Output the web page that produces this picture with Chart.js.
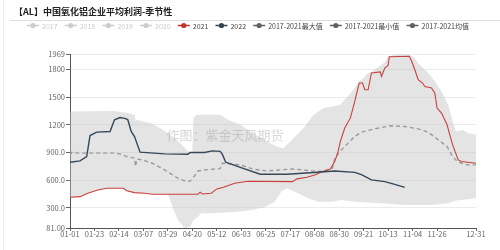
<!DOCTYPE html>
<html><head><meta charset="utf-8">
<script src="https://cdn.jsdelivr.net/npm/chart.js@4"></script>
<style>html,body{margin:0;padding:0;background:#fff;}#wrap{width:500px;height:250px;position:relative;}</style>
</head><body><div id="wrap"><canvas id="c" width="500" height="250"></canvas></div>
<script>
const titleText = '【AL】中国氧化铝企业平均利润-季节性';
const watermarkText = '作图：紫金天风期货';

const xTickDays = [0,22,44,66,88,110,132,154,176,198,220,242,264,286,308,330,365];
const xTickLabels = ['01-01','01-23','02-14','03-07','03-29','04-20','05-12','06-03','06-25','07-17','08-08','08-30','09-21','10-13','11-04','11-26','12-31'];
const yTickValues = [81,300,600,900,1200,1500,1800,1969];
const yTickLabels = ['81.00','300.0','600.0','900.0','1200','1500','1800','1969'];

const days2021 = [0,9,16,25,33,48,51,58,67,74,115,117,119,127,132,138,148,160,200,204,213,220,227,234,238,241,243,247,252,256,260,263,265,268,271,279,280,283,286,287,305,307,310,313,317,319,325,328,330,334,339,341,344,349,352,365];
const vals2021 = [415,421,458,494,512,512,486,465,458,447,447,470,450,458,505,523,567,588,584,614,632,657,693,722,802,910,1019,1165,1273,1454,1654,1654,1581,1581,1763,1774,1726,1817,1845,1940,1945,1896,1798,1690,1654,1617,1600,1545,1382,1328,1201,1110,983,820,802,784];

const days2022 = [0,9,15,18,24,36,40,45,50,52,55,58,63,85,106,108,121,128,135,137,140,155,171,195,216,238,256,262,271,283,292,301];
const vals2022 = [795,809,856,1084,1121,1128,1255,1280,1268,1255,1128,1073,904,885,882,900,900,918,912,880,795,730,665,665,680,700,685,660,603,584,555,521];

const daysMax = [0,40,52,58,59,60,72,81,90,99,106,110,111,114,135,142,153,165,177,186,192,201,210,219,228,236,243,251,256,260,263,268,271,280,283,286,295,305,310,313,322,328,334,340,344,347,353,358,365];
const valsMax = [1345,1350,1328,1309,1240,1255,1219,1165,1092,1002,915,905,1280,1309,1309,1255,1201,1110,1019,965,947,1056,1165,1309,1382,1400,1418,1527,1600,1680,1700,1763,1775,1853,1880,1943,1969,1961,1920,1870,1763,1672,1563,1418,1236,1128,1146,1110,1092];

const daysMin = [0,9,16,25,33,48,51,58,67,74,88,91,97,102,104,108,111,115,118,127,136,151,163,175,184,190,195,205,214,223,235,244,256,280,301,325,340,346,365];
const valsMin = [415,421,458,494,512,512,486,465,458,447,447,349,168,95,81,95,168,204,240,240,247,258,277,306,367,476,512,458,404,367,367,385,367,349,331,331,349,378,404];

const daysAvg = [0,2,7,40,45,51,58,59,60,65,74,85,97,105,108,114,115,121,135,137,153,165,177,200,218,227,236,238,244,250,256,262,274,288,301,313,322,331,339,343,348,357,365];
const valsAvg = [870,905,893,893,885,856,839,747,830,820,784,712,621,584,590,676,700,712,725,784,766,719,700,722,700,693,730,839,929,1002,1073,1121,1157,1190,1182,1157,1121,1038,965,875,802,766,766];

const inactiveYears = ['2017','2018','2019','2020'];

const pts = (d, v) => d.map((x, i) => ({x: x, y: v[i]}));

const FONT = '"Noto Sans CJK SC", "Noto Sans", sans-serif';

const datasets = inactiveYears.map(y => ({label: y, data: [], hidden: true, inactive: true, legendColor: '#ccc'}));
datasets.push(
  {label: '2021', data: pts(days2021, vals2021), borderColor: '#c9413d', legendColor: '#c23531', borderWidth: 1.1, pointRadius: 0, fill: false, order: 2},
  {label: '2022', data: pts(days2022, vals2022), borderColor: '#34495a', legendColor: '#2f4554', borderWidth: 1.4, pointRadius: 0, fill: false, order: 1},
  {label: '2017-2021最大值', data: pts(daysMax, valsMax), borderColor: 'rgba(0,0,0,0)', legendColor: '#5f6367', borderWidth: 0, pointRadius: 0, fill: {target: '+1'}, backgroundColor: 'rgba(195,195,195,0.45)', order: 10},
  {label: '2017-2021最小值', data: pts(daysMin, valsMin), borderColor: 'rgba(0,0,0,0)', legendColor: '#5f6367', borderWidth: 0, pointRadius: 0, fill: false, order: 11},
  {label: '2017-2021均值', data: pts(daysAvg, valsAvg), borderColor: '#9a9a9a', legendColor: '#5f6367', borderWidth: 1.4, borderDash: [4, 3], pointRadius: 0, fill: false, order: 3}
);

const decor = {
  id: 'decor',
  beforeDraw(chart) {
    const ctx = chart.ctx;
    ctx.save();
    ctx.fillStyle = '#fff';
    ctx.fillRect(0, 0, chart.width, chart.height);
    ctx.strokeStyle = '#eeeeee'; ctx.lineWidth = 1;
    ctx.beginPath(); ctx.moveTo(3.5, 0); ctx.lineTo(3.5, 250); ctx.stroke();
    ctx.strokeStyle = '#dddddd';
    ctx.beginPath(); ctx.moveTo(10, 20.5); ctx.lineTo(500, 20.5); ctx.stroke();
    ctx.font = 'bold 9px ' + FONT;
    ctx.fillStyle = '#222';
    ctx.textBaseline = 'middle';
    ctx.fillText(titleText, 14, 12);
    ctx.restore();
  },
  afterDatasetsDraw(chart) {
    const ctx = chart.ctx;
    ctx.save();
    ctx.font = '13px ' + FONT;
    ctx.fillStyle = 'rgba(140,140,140,0.35)';
    ctx.textAlign = 'center';
    ctx.textBaseline = 'middle';
    ctx.fillText(watermarkText, 225, 135);
    ctx.restore();
  },
  afterDraw(chart) {
    const ctx = chart.ctx;
    const items = chart.data.datasets.map(d => ({text: d.label, color: d.legendColor, active: !d.inactive}));
    ctx.save();
    ctx.font = '7px ' + FONT;
    const iconW = 12, iconGap = 3;
    const widths = items.map(it => iconW + iconGap + ctx.measureText(it.text).width);
    const left = 27, right = 469;
    const sum = widths.reduce((a, b) => a + b, 0);
    const gap = (right - left - sum) / (items.length - 1);
    let x = left; const y = 25.5;
    items.forEach((it, i) => {
      const c = it.active ? it.color : '#cccccc';
      ctx.strokeStyle = c; ctx.lineWidth = 1.5;
      ctx.beginPath(); ctx.moveTo(x, y); ctx.lineTo(x + iconW, y); ctx.stroke();
      ctx.fillStyle = c;
      ctx.beginPath(); ctx.arc(x + iconW / 2, y, 2.6, 0, Math.PI * 2); ctx.fill();
      ctx.fillStyle = it.active ? '#444' : '#cccccc';
      ctx.textBaseline = 'middle';
      ctx.fillText(it.text, x + iconW + iconGap, y + 0.5);
      x += widths[i] + gap;
    });
    ctx.restore();
  }
};

new Chart(document.getElementById('c'), {
  type: 'line',
  data: {datasets: datasets},
  options: {
    responsive: false,
    animation: false,
    devicePixelRatio: 1,
    layout: {padding: {top: 54, right: 24, bottom: 0, left: 0}},
    plugins: {legend: {display: false}, title: {display: false}, tooltip: {enabled: false}},
    elements: {line: {tension: 0}},
    scales: {
      x: {
        type: 'linear', min: 0, max: 365,
        afterBuildTicks: axis => { axis.ticks = xTickDays.map(v => ({value: v})); },
        afterFit: s => { s.height = 22; },
        ticks: {autoSkip: false, maxRotation: 0, padding: -1, color: '#666', font: {size: 7.5, family: FONT},
          callback: v => xTickLabels[xTickDays.indexOf(v)]},
        grid: {drawOnChartArea: false, drawTicks: true, tickLength: 3, tickColor: '#666'},
        border: {display: true, color: '#555', width: 1}
      },
      y: {
        type: 'linear', min: 81, max: 1969,
        afterBuildTicks: axis => { axis.ticks = yTickValues.map(v => ({value: v})); },
        afterFit: s => { s.width = 70; },
        ticks: {padding: 1, color: '#666', font: {size: 7.5, family: FONT},
          callback: v => yTickLabels[yTickValues.indexOf(v)]},
        grid: {color: '#ebebeb', drawTicks: true, tickLength: 4, tickColor: '#666'},
        border: {display: true, color: '#555', width: 1}
      }
    }
  },
  plugins: [decor]
});
</script>
</body></html>
